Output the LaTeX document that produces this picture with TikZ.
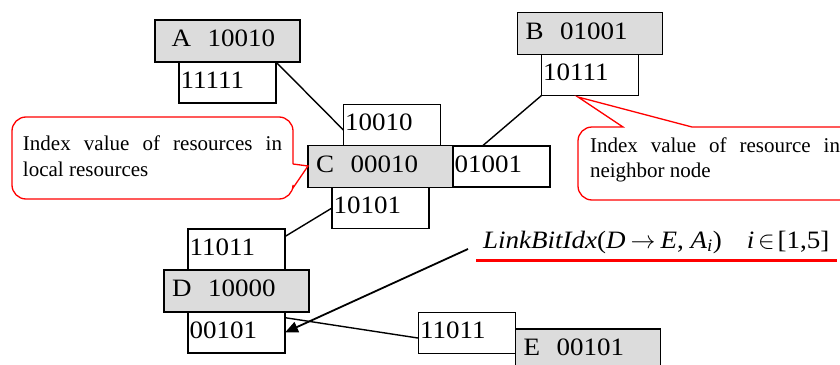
\documentclass[tikz,border=0pt]{standalone}
\usepackage{fontspec}
\setmainfont{Liberation Serif}
\newfontfamily\widefont[FakeStretch=1.08]{Liberation Serif}
\usepackage{tikz}
\usetikzlibrary{positioning,arrows.meta}
\usepackage{xcolor}
\definecolor{hostgrey}{RGB}{220,220,220}

\begin{document}
\begin{tikzpicture}[x=1pt, y=-1pt,
    hostbox/.style={draw, line width=1.5pt, outer sep=0pt, fill=hostgrey,
      minimum width=145pt, minimum height=42pt, inner xsep=8pt, text width=129pt,
      text depth=5pt, align=left, font=\widefont\fontsize{25}{30}\selectfont},
    bitbox/.style={draw, line width=1.5pt, outer sep=0pt, fill=white,
      minimum width=97pt, minimum height=41pt, inner xsep=1.5pt, text width=94pt,
      text depth=5pt, align=left, font=\widefont\fontsize{25}{30}\selectfont},
    link/.style={line width=1.4pt},
    note/.style={align=justify, font=\fontsize{21}{25.5}\selectfont},
    noteline/.style={red, line width=1.3pt}]
    \useasboundingbox (0,0) rectangle (840,364);

    % Nodes with their own index and the index boxes of their links
    \node[hostbox, inner xsep=16.5pt, text width=112pt] (A) at (227.5,41) {A\ \ 10010};
    \node[bitbox, below=0pt of A] (aidx) {11111};

    \node[hostbox] (B) at (590,33.5) {B\ \ 01001};
    \node[bitbox, below=0pt of B] (bidx) {10111};

    \node[hostbox] (C) at (380.5,166.5) {C\ \ 00010};
    \node[bitbox, above=0pt of C, xshift=11.5pt] (ctop) {10010};
    \node[bitbox, right=0pt of C] (cright) {01001};
    \node[bitbox, below=0pt of C] (cbot) {10101};

    \node[hostbox] (D) at (236.5,291) {D\ \ 10000};
    \node[bitbox, above=0pt of D] (dtop) {11011};
    \node[bitbox, below=0pt of D] (dlow) {00101};

    \node[hostbox] (E) at (588,350) {E\ \ 00101};
    \node[bitbox, left=0pt of E, yshift=17pt] (eidx) {11011};

    % Links
    \draw[link] (aidx.north east) -- (ctop.186);
    \draw[link] (bidx.south west) -- (cright.133);
    \draw[link] (cbot.west) -- (dtop.15);
    \draw[link] (dlow.17) -- (eidx.186);

    % Link index formula
    \node[anchor=base west, inner xsep=7pt, inner ysep=6pt, text height=18pt,
      text depth=6pt, font=\widefont\fontsize{25}{30}\selectfont] (lbidx) at (476,248)
      {\textit{LinkBitIdx}(\textit{D}\hspace{0.2em}$\rightarrow$\hspace{0.2em}\textit{E}, \textit{A}\textsubscript{\textit{i}})\hspace{1em}\textit{i}\hspace{0.15em}$\in$\hspace{0.12em}[1,5]};
    \draw[red, line width=3pt] (lbidx.south west) -- (lbidx.south east);
    \coordinate (tail) at (468,249);
    \draw[line width=1.8pt, -{Triangle[length=13pt,width=11pt]}] (tail) -- (dlow.east);

    % Callouts
    \node[note, text width=259pt] (localnote) at (152.5,156)
      {Index value of resources in\linebreak local resources};
    \draw[noteline] (293,164) -- (308,166) -- (293,188) [rounded corners=14pt]
      -- (293,199) -- (12,199) -- (12,117) -- (293,117) -- (293,164);

    \node[note, text width=250pt] (nbrnote) at (715,160)
      {Index value of resource in\linebreak neighbor node};
    \draw[noteline] (692,127) -- (578,97) -- (623,127) [rounded corners=14pt]
      -- (578,127) -- (578,200) -- (860,200) -- (860,127) -- (692,127);
\end{tikzpicture}
\end{document}
